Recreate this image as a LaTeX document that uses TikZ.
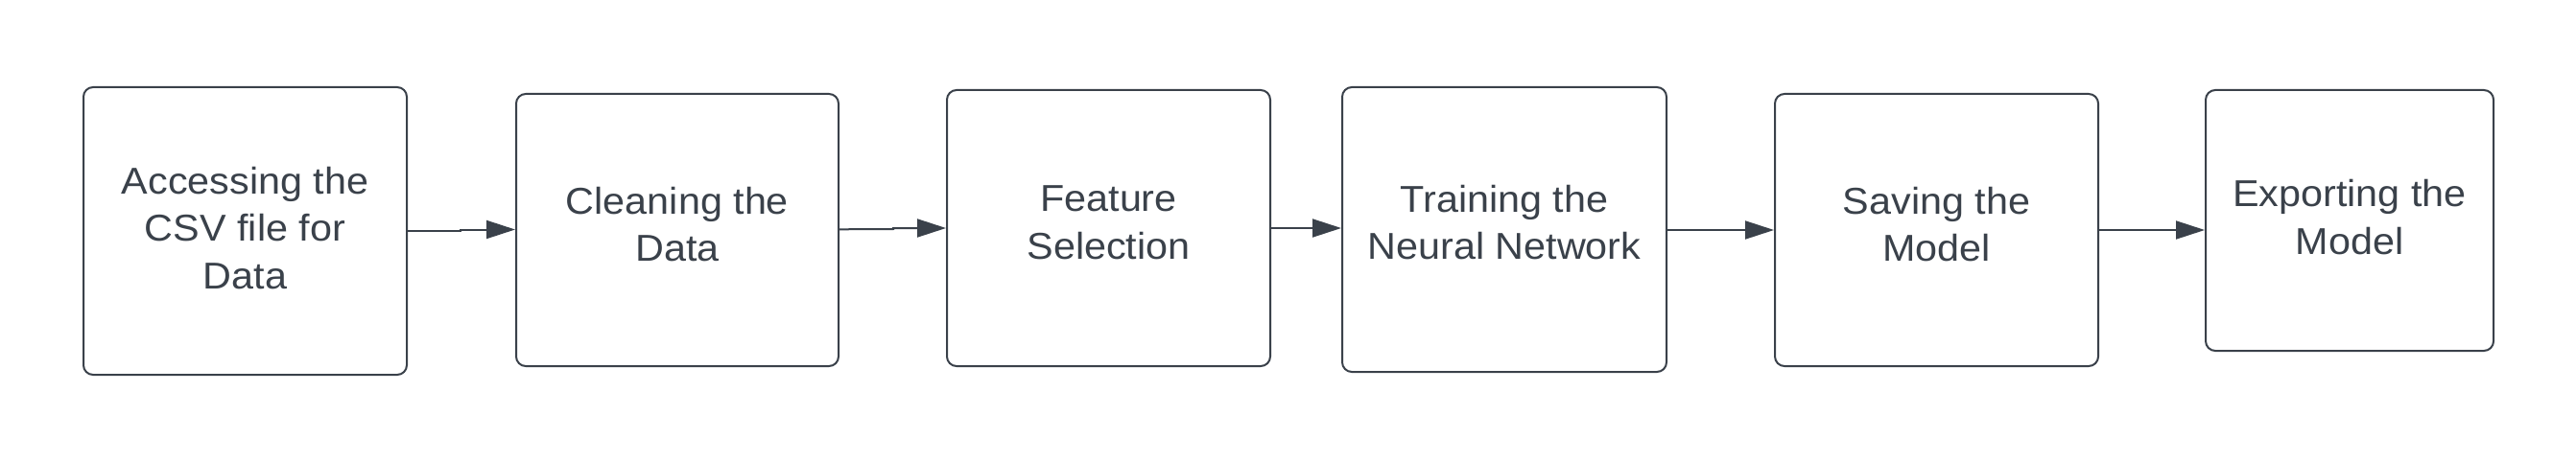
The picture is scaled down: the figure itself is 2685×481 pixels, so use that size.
\documentclass[tikz,border=0pt]{standalone}
\usepackage{fontspec}
\setmainfont{Liberation Sans}[FakeStretch=1.06]
\usetikzlibrary{arrows.meta}
\definecolor{ink}{HTML}{3A414A}
\tikzset{
  box/.style={draw=ink, line width=1pt, rounded corners=5pt, fill=white, inner sep=0pt},
  lbl/.style={text=ink, align=center, inner sep=0pt, font=\fontsize{19.5pt}{24.75pt}\selectfont},
  flow/.style={draw=ink, line width=1pt, -{Triangle[length=15pt,width=9.5pt]}},
}
\begin{document}
\begin{tikzpicture}[x=0.5pt,y=-0.5pt]
\useasboundingbox[fill=white] (0,0) rectangle (2685,481);
\node[box, minimum width=168.5pt, minimum height=150pt] (b1) at (255.5,241) {};
\node[box, minimum width=168pt, minimum height=142pt] (b2) at (706,240) {};
\node[box, minimum width=168.5pt, minimum height=144pt] (b3) at (1155.5,238) {};
\node[box, minimum width=169pt, minimum height=148.5pt] (b4) at (1568,239.5) {};
\node[box, minimum width=168.5pt, minimum height=142pt] (b5) at (2018.5,240) {};
\node[box, minimum width=150pt, minimum height=136pt] (b6) at (2449,230) {};
\node[lbl] (t1) at (255.5,238) {Accessing the\\CSV file for\\Data};
\node[lbl] (t2) at (706,234.3) {Cleaning the\\Data};
\node[lbl] (t3) at (1155.5,232.2) {Feature\\Selection};
\node[lbl] (t4) at (1568,232.2) {Training the\\Neural Network};
\node[lbl] (t5) at (2018.5,234.3) {Saving the\\Model};
\node[lbl] (t6) at (2449,226.8) {Exporting the\\Model};
\coordinate (j1) at (480,241);
\coordinate (j2) at (931,239);
\draw[flow] (b1.east |- 0,241) -- (j1) -- (480,239.5) -- (b2.west |- 0,239.5);
\draw[flow] (b2.east |- 0,239.3) -- (j2) -- (931,238) -- (b3.west |- 0,238);
\draw[flow] (b3.east |- 0,238) -- (b4.west |- 0,238);
\draw[flow] (b4.east |- 0,240) -- (b5.west |- 0,240);
\draw[flow] (b5.east |- 0,240) -- (b6.west |- 0,240);
\end{tikzpicture}
\end{document}
